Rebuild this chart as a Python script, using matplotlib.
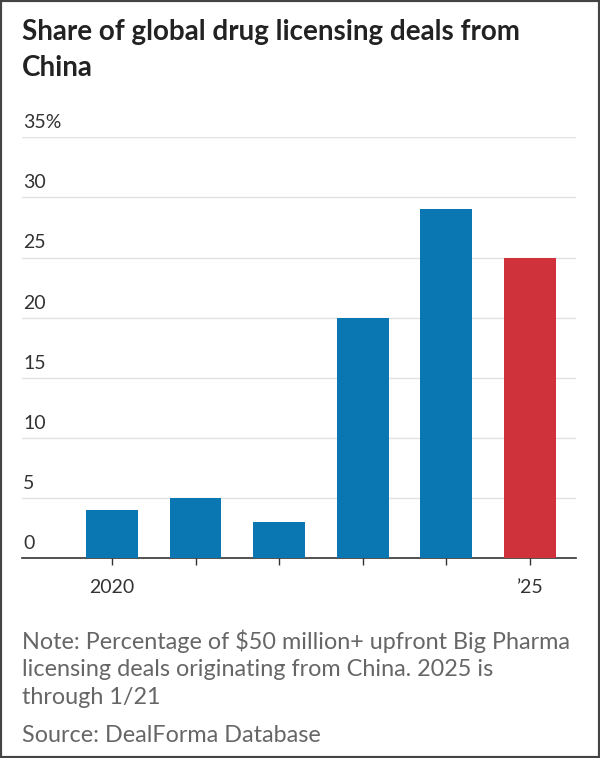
import matplotlib
matplotlib.use('Agg')
import matplotlib.pyplot as plt
from matplotlib import patches
import numpy as np

# Данные
years = [2020, 2021, 2022, 2023, 2024, 2025]
share = [4, 5, 3, 20, 29, 25]
x_labels = ['2020', '', '', '', '', '\u201925']
y_ticks = [0, 5, 10, 15, 20, 25, 30, 35]
y_labels = ['0', '5', '10', '15', '20', '25', '30', '35%']

title = 'Share of global drug licensing deals from\nChina'
note = ('Note: Percentage of $50 million+ upfront Big Pharma\n'
        'licensing deals originating from China. 2025 is\n'
        'through 1/21')
source = 'Source: DealForma Database'

blue = '#0a77b2'
red = '#d0323b'

plt.rcParams['font.family'] = ['Lato', 'DejaVu Sans']

fig = plt.figure(figsize=(6, 7.58), dpi=100)
ax = fig.add_axes([0.0367, 0.2635, 0.9233, 0.5555])

xs = np.arange(len(years))
colors = [blue] * (len(years) - 1) + [red]
ax.bar(xs, share, width=0.62, color=colors, zorder=3)

ax.set_xlim(-1.075, 5.55)
ax.set_ylim(0, 35)

# Сетка
for t in y_ticks[1:]:
    ax.axhline(t, color='#e2e2e2', lw=1, zorder=1)
for t, lab in zip(y_ticks, y_labels):
    ax.text(0.002, t + 0.5, lab, transform=ax.get_yaxis_transform(),
            ha='left', va='bottom', fontsize=14, color='#333333')

for s in ['top', 'right', 'left']:
    ax.spines[s].set_visible(False)
ax.spines['bottom'].set_color('#333333')
ax.spines['bottom'].set_linewidth(1.2)
ax.set_yticks([])
ax.set_xticks(xs)
ax.set_xticklabels(x_labels, fontsize=14, color='#333333')
ax.tick_params(axis='x', length=5, width=1, color='#333333', pad=10)

fig.text(0.037, 0.975, title, ha='left', va='top', fontsize=20,
         fontweight='bold', color='#222222', linespacing=1.5)
fig.text(0.037, 0.170, note, ha='left', va='top', fontsize=16.8,
         color='#666666', linespacing=1.4)
fig.text(0.037, 0.0435, source, ha='left', va='top', fontsize=16.8,
         color='#666666')

# Рамка
fig.add_artist(patches.Rectangle((0, 0), 1, 1, transform=fig.transFigure,
                                 fill=False, edgecolor='#444444', lw=3))

fig.savefig('out.png', dpi=100)
